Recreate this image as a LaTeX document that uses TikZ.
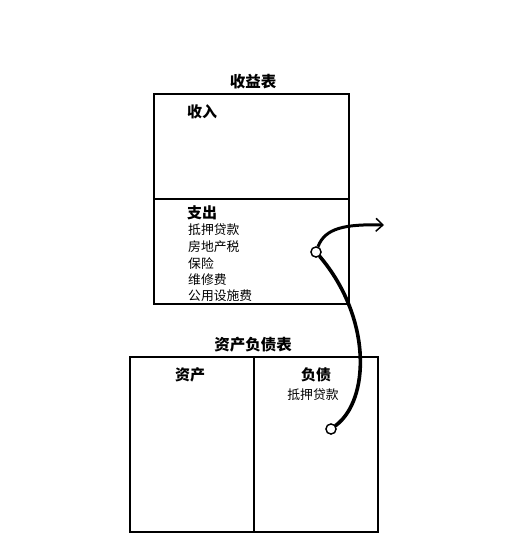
\documentclass[tikz,border=0pt]{standalone}
\usepackage{fontspec}
\setmainfont{Noto Sans CJK SC}
\usetikzlibrary{arrows.meta}
\tikzstyle{sheet} = [rectangle, 
draw=black, 
line width=2pt, 
inner sep=0pt]
\tikzstyle{head} = [font=\bfseries\fontsize{15.5}{17}\selectfont]
\tikzstyle{item} = [font=\fontsize{12.8}{14}\selectfont, anchor=west, inner sep=0pt]
\tikzstyle{label} = [font=\bfseries\fontsize{15}{17}\selectfont, inner sep=0pt]
\tikzstyle{dot} = [circle, draw=black, fill=white, line width=1.3pt, minimum size=10pt, inner sep=0pt]
\tikzstyle{brush} = [line width=3.6pt, line cap=round]

\begin{document}
\begin{tikzpicture}[x=1pt, y=-1pt]
\useasboundingbox (0,0) rectangle (513,558);

% income statement
\node (inc) [sheet, minimum width=195pt, minimum height=210pt] at (251.5,199) {};
\draw [line width=2pt] (inc.west |- 0,199) -- (inc.east |- 0,199);
\node (inctitle) [head] at (253,82) {收益表};
\node (revenue) [label, anchor=west] at (187,112) {收入};
\node (expense) [label, anchor=west] at (187,213) {支出};
\node (e1) [item] at (188,230) {抵押贷款};
\node (e2) [item] at (188,247) {房地产税};
\node (e3) [item] at (188,264) {保险};
\node (e4) [item] at (188,280) {维修费};
\node (e5) [item] at (188,296) {公用设施费};

% balance sheet
\node (bal) [sheet, minimum width=248pt, minimum height=175pt] at (254,444.5) {};
\draw [line width=2pt] (254,357) -- (254,532);
\node (baltitle) [head] at (253,345) {资产负债表};
\node (assets) [label] at (190,375) {资产};
\node (liab) [label] at (316,375) {负债};
\node (l1) [item, anchor=center] at (313,395) {抵押贷款};

% flow of the mortgage
\coordinate (out) at (384,225);
\node (from) [dot] at (331,429) {};
\node (to) [dot] at (316,252) {};
\draw [brush] (from) .. controls (370,400) and (372,318) .. (to);
\draw [line width=3pt, -{Straight Barb[length=7pt, width=13pt, line width=1.5pt]}] (to) .. controls (325,228) and (345,224) .. (out);
\node [dot] at (from) {};
\node [dot] at (to) {};

\end{tikzpicture}
\end{document}
